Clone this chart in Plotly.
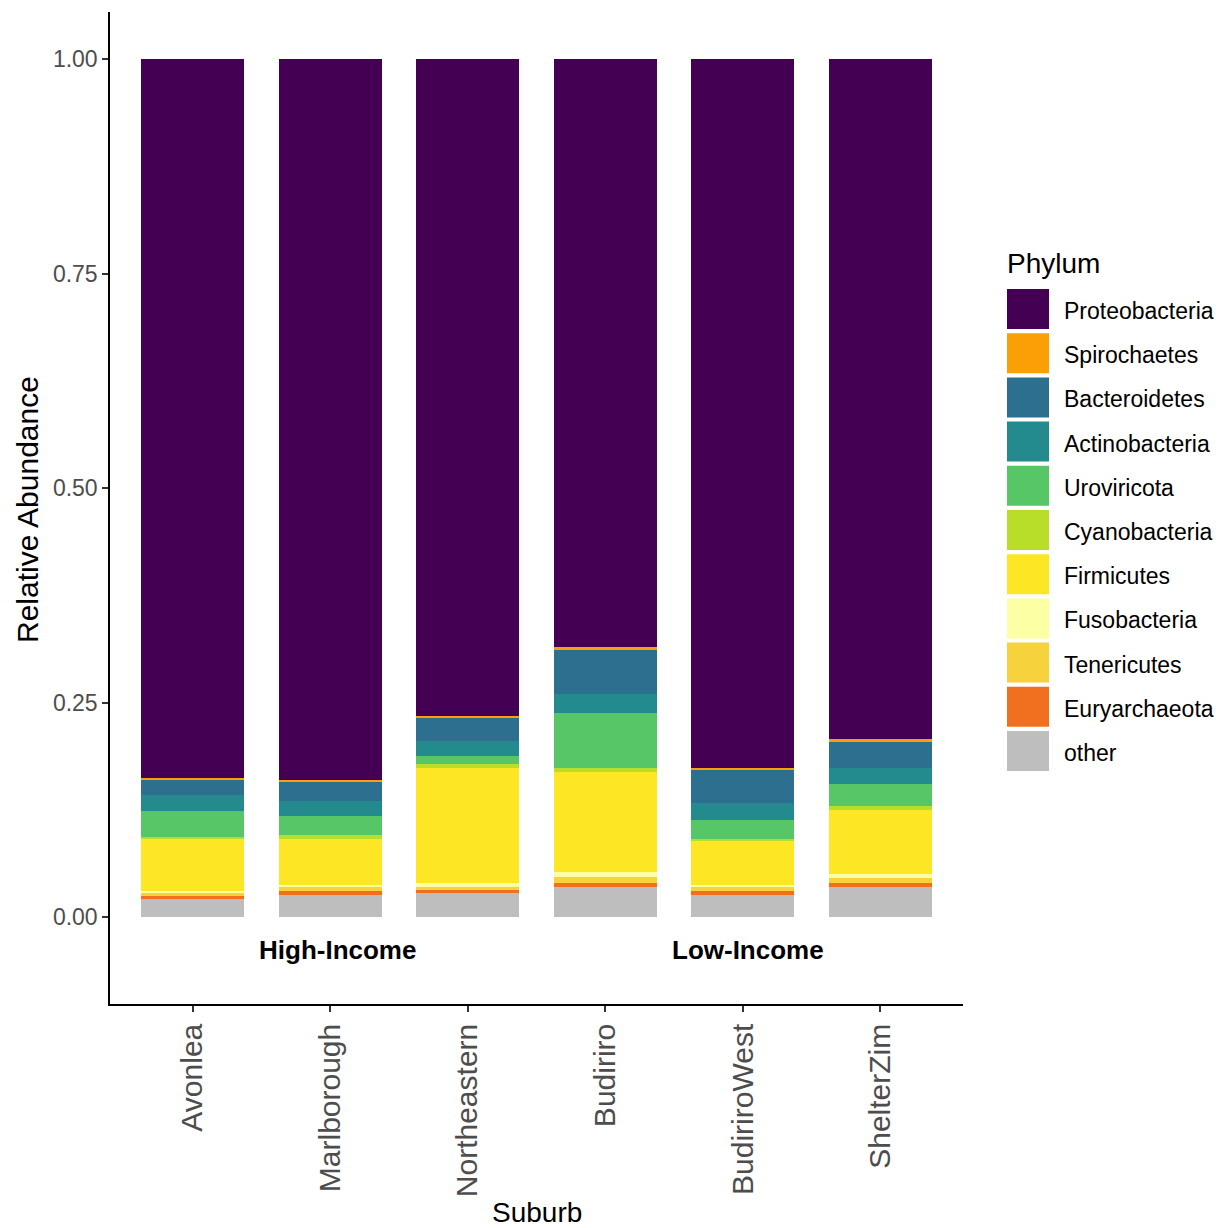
import plotly.graph_objects as go

suburbs = ["Avonlea", "Marlborough", "Northeastern", "Budiriro", "BudiriroWest", "ShelterZim"]

# legend order (top of legend = top of stack)
phyla = ["Proteobacteria", "Spirochaetes", "Bacteroidetes", "Actinobacteria", "Uroviricota",
         "Cyanobacteria", "Firmicutes", "Fusobacteria", "Tenericutes", "Euryarchaeota", "other"]
colors = ["#440154", "#FB9F07", "#2D6F8E", "#238A8D", "#56C667",
          "#B8DE29", "#FDE725", "#FCFFA4", "#F6D33C", "#F0701F", "#BEBEBE"]

proteobacteria = [0.8376, 0.8400, 0.7657, 0.6856, 0.8262, 0.7931]
spirochaetes   = [0.0027, 0.0027, 0.0027, 0.0031, 0.0027, 0.0031]
bacteroidetes  = [0.0175, 0.0218, 0.0264, 0.0509, 0.0381, 0.0303]
actinobacteria = [0.0183, 0.0179, 0.0179, 0.0221, 0.0198, 0.0180]
uroviricota    = [0.0307, 0.0221, 0.0093, 0.0649, 0.0218, 0.0264]
cyanobacteria  = [0.0020, 0.0050, 0.0047, 0.0039, 0.0020, 0.0047]
firmicutes     = [0.0606, 0.0532, 0.1333, 0.1166, 0.0521, 0.0738]
fusobacteria   = [0.0027, 0.0027, 0.0050, 0.0062, 0.0027, 0.0047]
tenericutes    = [0.0035, 0.0039, 0.0039, 0.0066, 0.0039, 0.0062]
euryarchaeota  = [0.0023, 0.0047, 0.0027, 0.0047, 0.0047, 0.0047]
other          = [0.0221, 0.0260, 0.0284, 0.0354, 0.0260, 0.0350]

series = [proteobacteria, spirochaetes, bacteroidetes, actinobacteria, uroviricota,
          cyanobacteria, firmicutes, fusobacteria, tenericutes, euryarchaeota, other]

y_ticks = [0.0, 0.25, 0.5, 0.75, 1.0]
group_labels = ["High-Income", "Low-Income"]
group_pos = [1.05, 4.04]

fig = go.Figure()
# stack from bottom ("other") to top ("Proteobacteria")
for name, col, vals in reversed(list(zip(phyla, colors, series))):
    fig.add_trace(go.Bar(x=suburbs, y=vals, name=name, marker=dict(color=col, line=dict(width=0)),
                         width=0.75, showlegend=False))

fig.update_layout(
    barmode="stack",
    width=1222, height=1228,
    margin=dict(l=110, r=259, t=12, b=224),
    paper_bgcolor="white", plot_bgcolor="white",
    font=dict(family="Liberation Sans, Arial, sans-serif", color="black"),
    showlegend=False,
)

fig.update_xaxes(
    range=[-0.6, 5.6], showline=True, linecolor="black", linewidth=1.5,
    ticks="outside", ticklen=6, tickcolor="#333333", tickwidth=1.5,
    tickangle=-90, tickfont=dict(size=30, color="#4D4D4D"),
    showgrid=False, zeroline=False, automargin=False,
)
fig.update_yaxes(
    range=[-0.1014, 1.0548], showline=True, linecolor="black", linewidth=1.5,
    ticks="outside", ticklen=6, tickcolor="#333333", tickwidth=1.5,
    tickvals=y_ticks, tickformat=".2f", tickfont=dict(size=23, color="#4D4D4D"),
    showgrid=False, zeroline=False, automargin=False,
)

px_w, px_h = 853.0, 992.0
def px_x(p):
    return (p - 110) / px_w
def px_y(p):
    return (1004 - p) / px_h

# axis titles
fig.add_annotation(x=0.5, y=px_y(1212), xref="paper", yref="paper", text="Suburb",
                   showarrow=False, yanchor="middle", font=dict(size=28, color="black"))
fig.add_annotation(x=px_x(28), y=px_y(510), xref="paper", yref="paper", text="Relative Abundance",
                   showarrow=False, textangle=-90, xanchor="center", yanchor="middle",
                   font=dict(size=30, color="black"))

for lab, pos in zip(group_labels, group_pos):
    fig.add_annotation(x=pos, y=-0.0385, xref="x", yref="y", text="<b>" + lab + "</b>",
                       showarrow=False, font=dict(size=26, color="black"))

# custom legend (large swatches like the reference)
fig.add_annotation(x=px_x(1005), y=px_y(263), xref="paper", yref="paper", xanchor="left",
                   yanchor="middle", text="Phylum", showarrow=False,
                   font=dict(size=28, color="black"))
for i, (name, col) in enumerate(zip(phyla, colors)):
    cy = 309 + 44.2 * i
    fig.add_shape(type="rect", xref="paper", yref="paper",
                  x0=px_x(1007), x1=px_x(1049), y0=px_y(cy + 20), y1=px_y(cy - 20),
                  fillcolor=col, line=dict(width=0))
    fig.add_annotation(x=px_x(1062), y=px_y(cy + 2), xref="paper", yref="paper", xanchor="left",
                       yanchor="middle", text=name, showarrow=False,
                       font=dict(size=23, color="black"))

fig.write_html("out.html")
